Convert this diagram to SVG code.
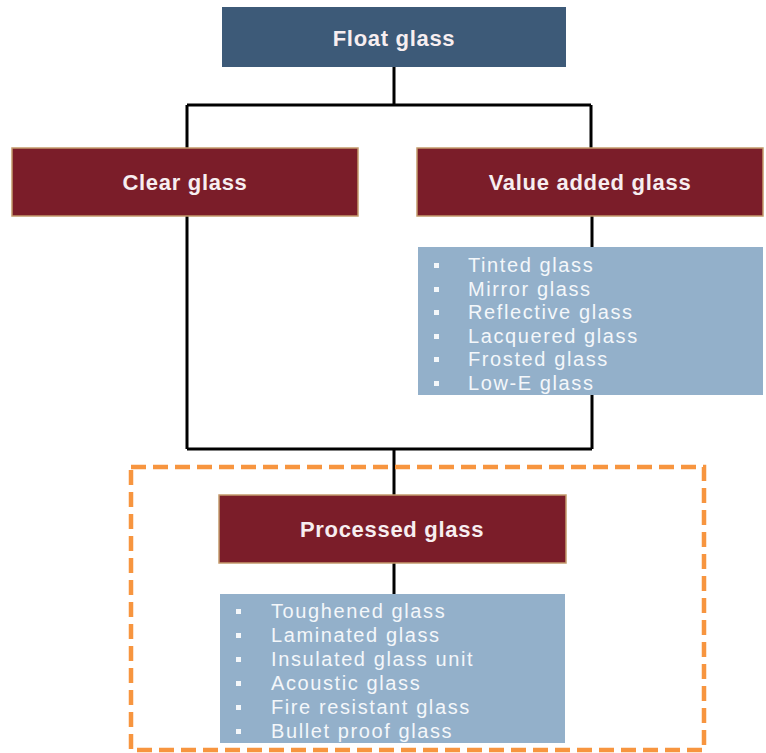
<svg xmlns="http://www.w3.org/2000/svg" width="766" height="753" viewBox="0 0 766 753">
<style>
.title{font-family:"Liberation Sans",Arial,sans-serif;font-weight:bold;font-size:22px;letter-spacing:0.7px;fill:#F7EEF0;text-anchor:middle}
.item{font-family:"Liberation Sans",Arial,sans-serif;font-size:20px;letter-spacing:1.6px;fill:#F4F7FA}
.red{fill:#7B1D29;stroke:#C49A6C;stroke-width:1.5}
.blue{fill:#3D5A78}
.list{fill:#93B0CA}
.bul{fill:#F4F7FA}
.conn{fill:none;stroke:#000;stroke-width:3}
</style>
<rect width="766" height="753" fill="#fff"/>
<g id="connectors">
<path class="conn" d="M394 67 V105 M187 105 H591 M187 105 V449 M591 105 V148 M592 216 V247 M592 395 V449 M187 449 H592 M394 449 V495 M394 563 V594"/>
</g>
<g id="float-glass">
<rect class="blue" x="222" y="7" width="344" height="60"/>
<text class="title" x="394" y="46">Float glass</text>
</g>
<g id="clear-glass">
<rect class="red" x="12" y="148" width="346" height="68"/>
<text class="title" x="185" y="190">Clear glass</text>
</g>
<g id="value-added-glass">
<rect class="red" x="417" y="148" width="346" height="68"/>
<text class="title" x="590" y="190">Value added glass</text>
</g>
<g id="value-added-list">
<rect class="list" x="418" y="247" width="345" height="148"/>
<rect class="bul" x="434" y="263" width="5" height="5"/>
<rect class="bul" x="434" y="287" width="5" height="5"/>
<rect class="bul" x="434" y="310" width="5" height="5"/>
<rect class="bul" x="434" y="334" width="5" height="5"/>
<rect class="bul" x="434" y="357" width="5" height="5"/>
<rect class="bul" x="434" y="381" width="5" height="5"/>
<text class="item" x="468" y="272">Tinted glass</text>
<text class="item" x="468" y="296">Mirror glass</text>
<text class="item" x="468" y="319">Reflective glass</text>
<text class="item" x="468" y="343">Lacquered glass</text>
<text class="item" x="468" y="366">Frosted glass</text>
<text class="item" x="468" y="390">Low-E glass</text>
</g>
<g id="processed-region">
<rect x="131" y="467" width="573" height="283" fill="none" stroke="#F7953F" stroke-width="4.5" stroke-dasharray="15 7"/>
</g>
<g id="processed-glass">
<rect class="red" x="219" y="495" width="347" height="68"/>
<text class="title" x="392" y="537">Processed glass</text>
</g>
<g id="processed-list">
<rect class="list" x="220" y="594" width="345" height="149"/>
<rect class="bul" x="236" y="609" width="5" height="5"/>
<rect class="bul" x="236" y="633" width="5" height="5"/>
<rect class="bul" x="236" y="657" width="5" height="5"/>
<rect class="bul" x="236" y="681" width="5" height="5"/>
<rect class="bul" x="236" y="705" width="5" height="5"/>
<rect class="bul" x="236" y="729" width="5" height="5"/>
<text class="item" x="271" y="618">Toughened glass</text>
<text class="item" x="271" y="642">Laminated glass</text>
<text class="item" x="271" y="666">Insulated glass unit</text>
<text class="item" x="271" y="690">Acoustic glass</text>
<text class="item" x="271" y="714">Fire resistant glass</text>
<text class="item" x="271" y="738">Bullet proof glass</text>
</g>
</svg>
